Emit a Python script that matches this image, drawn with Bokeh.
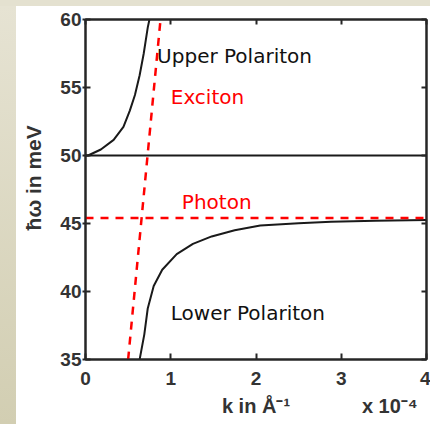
from bokeh.plotting import figure
from bokeh.models import Range1d, FixedTicker, LinearAxis, Spacer, Row, Column
from bokeh.core.properties import value
from bokeh.embed import file_html
from bokeh.resources import INLINE

# ---- data (k in units of 1e-4 1/Angstrom, energy in meV) ----
x_ticks = [0, 1, 2, 3, 4]
y_ticks = [35, 40, 45, 50, 55, 60]

upper_k = [0.0, 0.03, 0.18, 0.33, 0.445, 0.52, 0.58, 0.635, 0.683, 0.73, 0.75]
upper_E = [50.0, 50.0, 50.44, 51.15, 52.1, 53.3, 54.45, 55.9, 57.5, 59.4, 60.0]

lower_k = [0.635, 0.69, 0.73, 0.80, 0.90, 1.07, 1.26, 1.48, 1.75, 2.05, 2.5, 2.88, 3.4, 4.0]
lower_E = [35.0, 36.85, 38.75, 40.4, 41.6, 42.75, 43.5, 44.05, 44.5, 44.85, 45.02, 45.13, 45.2, 45.25]

exciton_k = [0.50, 0.88]
exciton_E = [35.0, 60.0]

photon_k = [0.0, 4.0]
photon_E = [45.4, 45.4]

level_k = [0.0, 4.0]
level_E = [50.0, 50.0]

label_text = ["Upper Polariton", "Exciton", "Photon", "Lower Polariton"]
x_title = "k in Å⁻¹"
x_multiplier = "x 10⁻⁴"
y_title = "ħω in meV"

# ---- styling / placement ----
label_color = ["#111111", "#ff0000", "#ff0000", "#111111"]
label_k = [0.84, 1.0, 1.13, 1.0]
label_E = [57.33, 54.33, 46.6, 38.4]

AX = "#262626"
TXT = "#333333"
TICK_FONT = "Liberation Sans"
BEIGE = "linear-gradient(#e6e3d3, #d2ceb2)"

p = figure(width=414, height=418,
           x_range=Range1d(0, 4), y_range=Range1d(35, 60),
           output_backend="svg", toolbar_location=None,
           min_border_left=69, min_border_right=4,
           min_border_top=13, min_border_bottom=65,
           background_fill_color="white", border_fill_color="white")
p.xgrid.visible = False
p.ygrid.visible = False
p.outline_line_color = AX
p.outline_line_width = 2

def style_axis(ax, ticks, tin, tout):
    ax.ticker = FixedTicker(ticks=ticks)
    ax.major_tick_in = tin
    ax.major_tick_out = tout
    ax.major_tick_line_color = AX
    ax.major_tick_line_width = 2
    ax.minor_tick_line_color = None
    ax.axis_line_color = AX
    ax.axis_line_width = 2
    ax.major_label_text_font = TICK_FONT
    ax.major_label_text_font_style = "bold"
    ax.major_label_text_font_size = "19px"
    ax.major_label_text_color = TXT
    ax.axis_label_text_font = TICK_FONT
    ax.axis_label_text_font_style = "bold"
    ax.axis_label_text_font_size = "21px"
    ax.axis_label_text_color = TXT

xa = p.xaxis[0]
style_axis(xa, x_ticks, 6, 0)
xa.major_label_standoff = 12

# second row under the x axis: axis title and the "x 10^-4" multiplier
title_pos = [2.0, 3.57]
xt = LinearAxis()
style_axis(xt, title_pos, 0, 0)
xt.axis_line_color = None
xt.major_tick_line_color = None
xt.major_label_standoff = 7
xt.major_label_text_font_size = "20px"
xt.major_label_overrides = {2.0: x_title, 3.57: x_multiplier}
p.add_layout(xt, "below")

ya = p.yaxis[0]
style_axis(ya, y_ticks, 5, 3)
ya.major_label_standoff = 1
ya.axis_label = "\u00a0\u00a0\u00a0\u00a0" + y_title
ya.axis_label_standoff = 12

top = LinearAxis()
style_axis(top, x_ticks, 5, 0)
top.major_label_text_color = None
top.major_label_text_font_size = "0px"
top.major_label_standoff = 0
p.add_layout(top, "above")

right = LinearAxis()
style_axis(right, y_ticks, 5, 0)
right.major_label_text_color = None
right.major_label_text_font_size = "0px"
right.major_label_standoff = 0
p.add_layout(right, "right")

# curves
p.line(level_k, level_E, line_color="#1a1a1a", line_width=2)
p.line(upper_k, upper_E, line_color="#1a1a1a", line_width=2)
p.line(lower_k, lower_E, line_color="#1a1a1a", line_width=2)
p.line(exciton_k, exciton_E, line_color="#ff0000", line_width=2.5, line_dash="8 7")
p.line(photon_k, photon_E, line_color="#ff0000", line_width=2.5, line_dash="8 7")

p.text(x=label_k, y=label_E, text=label_text, text_color=label_color,
       text_font=value("DejaVu Sans"), text_font_size="20px",
       text_baseline="alphabetic", text_align="left")

top_strip = Spacer(width=430, height=6, styles={"background": "#e4e1d0"})
left_strip = Spacer(width=16, height=418, styles={"background": BEIGE})
layout = Column(children=[top_strip, Row(children=[left_strip, p], spacing=0)], spacing=0)

open("out.html", "w").write(file_html(layout, INLINE))
